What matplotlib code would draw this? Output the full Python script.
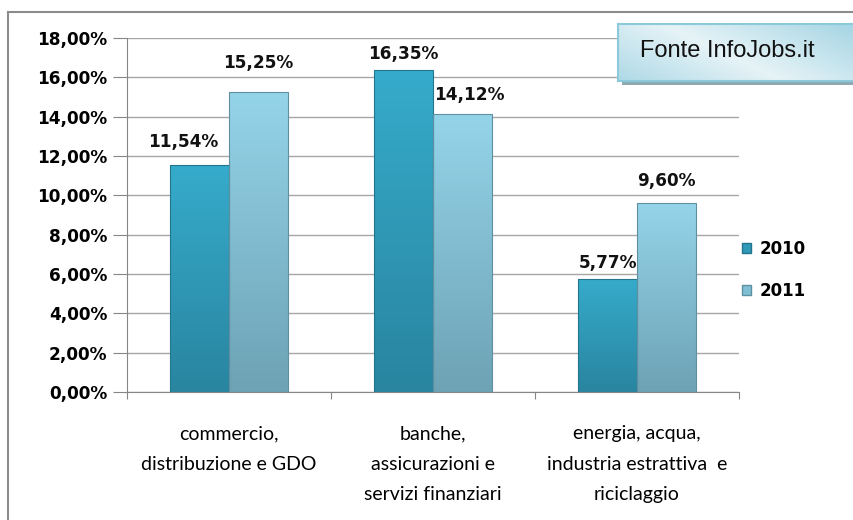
import matplotlib
matplotlib.use("Agg")
import matplotlib.pyplot as plt
import numpy as np
from matplotlib.colors import LinearSegmentedColormap
from matplotlib.patches import Rectangle, Patch

categories = ["commercio,\ndistribuzione e GDO",
              "banche,\nassicurazioni e\nservizi finanziari",
              "energia, acqua,\nindustria estrattiva  e\nriciclaggio"]
series_names = ["2010", "2011"]
values_2010 = [11.54, 16.35, 5.77]
values_2011 = [15.25, 14.12, 9.60]
yticks = [0, 2, 4, 6, 8, 10, 12, 14, 16, 18]
source_text = "Fonte InfoJobs.it"

# label offsets (points) from bar top centre, as placed in the original
label_dx_2010 = [-11.5, 0, 0]
label_dy_2010 = [16.5, 11.5, 11.5]
label_dx_2011 = [0, 5, 0]
label_dy_2011 = [21, 14, 16]

plt.rcParams['font.family'] = ['Lato', 'DejaVu Sans']
BOLD = ["DejaVu Sans"]

fig = plt.figure(figsize=(8.54, 5.2), dpi=100)
ax = fig.add_axes([127/854, 1-392/520, (739-127)/854, (392-38)/520])

x = np.arange(len(categories))
w = 0.288
cmap10 = LinearSegmentedColormap.from_list("c10", ["#2985a0", "#36abcb"])
cmap11 = LinearSegmentedColormap.from_list("c11", ["#6ea2b5", "#94d4e9"])

def fmt(v):
    return f"{v:.2f}".replace(".", ",") + "%"

for vals, off, cmap, edge, dxs, dys in [
        (values_2010, -w/2, cmap10, "#22758c", label_dx_2010, label_dy_2010),
        (values_2011, w/2, cmap11, "#5f90a2", label_dx_2011, label_dy_2011)]:
    bars = ax.bar(x + off, vals, width=w, color="none", edgecolor=edge,
                  linewidth=0.8, zorder=3)
    for b, v, dx, dy in zip(bars, vals, dxs, dys):
        x0, y0 = b.get_x(), b.get_y()
        grad = np.linspace(0, 1, 100).reshape(-1, 1)
        im = ax.imshow(grad, extent=[x0, x0 + b.get_width(), y0, y0 + b.get_height()],
                       origin="lower", cmap=cmap, aspect="auto", zorder=2)
        im.set_clip_path(b)
        ax.annotate(fmt(v), (b.get_x() + b.get_width()/2, v),
                    xytext=(dx, dy), textcoords="offset points",
                    ha="center", va="center", fontsize=12.2, fontweight="bold",
                    family=BOLD, color="#111111", zorder=4)

ax.set_xlim(-0.5, 2.5)
ax.set_ylim(0, 18)
ax.set_yticks(yticks)
ax.set_yticklabels([fmt(t) for t in yticks], fontsize=12.2, fontweight="bold",
                   family=BOLD)
ax.yaxis.grid(True, color="#a6a6a6", linewidth=1.0, zorder=0)
ax.set_axisbelow(True)
ax.set_xticks([-0.5, 0.5, 1.5, 2.5])
ax.set_xticklabels([])
ax.tick_params(axis="x", length=5, color="#868686", direction="out")
ax.tick_params(axis="y", length=10, color="#868686", direction="out", pad=4)
for s in ["top", "right"]:
    ax.spines[s].set_visible(False)
for s in ["left", "bottom"]:
    ax.spines[s].set_color("#868686")

for i, c in enumerate(categories):
    ax.text(i, -1.7, c, ha="center", va="top", fontsize=14,
            linespacing=1.95, transform=ax.transData)

handles = [Patch(facecolor="#2f9ab8", edgecolor="#22758c"),
           Patch(facecolor="#80bfd3", edgecolor="#5f90a2")]
fig.legend(handles, series_names, loc="upper left",
           bbox_to_anchor=(727/854, 1-225/520), frameon=False,
           prop={"weight": "bold", "size": 12, "family": BOLD},
           handlelength=0.55, handleheight=0.55, handletextpad=0.5,
           labelspacing=1.45)

# outer frame (top and left)
fig.add_artist(plt.Line2D([8/854, 8/854], [0, 1-12/520], color="#8c8c8c", lw=1.5))
fig.add_artist(plt.Line2D([8/854, 1], [1-12/520, 1-12/520], color="#8c8c8c", lw=1.5))

# source box with shadow and soft gradient
shadow = Rectangle((622/854, 1-85/520), 240/854, 58/520, transform=fig.transFigure,
                   facecolor="#8fa9b3", edgecolor="none", zorder=5)
fig.add_artist(shadow)
bax = fig.add_axes([618/854, 1-81/520, 240/854, 57/520], zorder=6)
gx, gy = np.meshgrid(np.linspace(0, 1, 200), np.linspace(0, 1, 60))
gval = np.abs((gx * 0.8 + (1 - gy) * 0.4) - 0.55)
boxcmap = LinearSegmentedColormap.from_list("box", ["#e6f3f7", "#a9d7e5"])
bax.imshow(gval, cmap=boxcmap, aspect="auto", extent=[0, 1, 0, 1],
           vmin=0, vmax=0.6)
bax.set_xlim(0, 1)
bax.set_ylim(0, 1)
bax.set_xticks([])
bax.set_yticks([])
for s in bax.spines.values():
    s.set_color("#8cc9da")
    s.set_linewidth(1.5)
bax.text(22/240, 0.52, source_text, fontsize=17, va="center", ha="left",
         family=["Liberation Sans", "DejaVu Sans"], color="#111111",
         transform=bax.transAxes)

fig.savefig("out.png", dpi=100)
